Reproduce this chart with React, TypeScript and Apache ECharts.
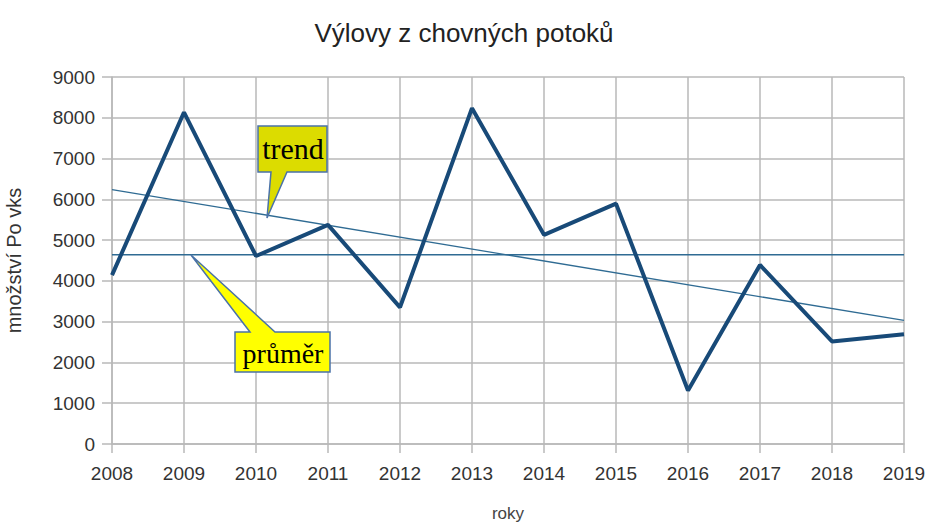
import React, { useEffect, useRef } from "react";
import * as echarts from "echarts";

const years = ["2008", "2009", "2010", "2011", "2012", "2013", "2014", "2015", "2016", "2017", "2018", "2019"];
const catch_ = [4140, 8135, 4610, 5375, 3350, 8235, 5130, 5895, 1310, 4390, 2515, 2690];
const averageValue = 4640;
const trendStart = 6240;
const trendEnd = 3030;
const yTicks = { min: 0, max: 9000, interval: 1000 };

export default function App() {
  const ref = useRef<HTMLDivElement>(null);
  useEffect(() => {
    if (!ref.current) return;
    const chart = echarts.init(ref.current, null, { renderer: "svg" });
    const font = "'Liberation Sans', Arial, sans-serif";
    const serif = "'Liberation Serif', 'Times New Roman', serif";
    const gray = "#b8b8b8";
    chart.setOption({
      animation: false,
      backgroundColor: "#ffffff",
      title: {
        text: "Výlovy z chovných potoků",
        left: "center",
        top: 15,
        textStyle: { fontFamily: font, fontSize: 26, fontWeight: "normal", color: "#222" },
      },
      grid: { left: 112, right: 24, top: 77, bottom: 81, containLabel: false, outerBoundsMode: "none" },
      xAxis: {
        type: "category",
        data: years,
        boundaryGap: false,
        name: "roky",
        nameLocation: "middle",
        nameGap: 61,
        nameTextStyle: { fontFamily: font, fontSize: 17, color: "#444" },
        axisLine: { lineStyle: { color: gray, width: 1.5 } },
        axisTick: { show: true, length: 9, lineStyle: { color: gray, width: 1.5 } },
        axisLabel: { fontFamily: font, fontSize: 19, color: "#333", margin: 20 },
        splitLine: { show: true, lineStyle: { color: gray, width: 1.5 } },
      },
      yAxis: {
        type: "value",
        min: yTicks.min,
        max: yTicks.max,
        interval: yTicks.interval,
        name: "množství Po vks",
        nameLocation: "middle",
        nameGap: 88,
        nameRotate: 90,
        nameTextStyle: { fontFamily: font, fontSize: 20, color: "#333" },
        axisLine: { show: true, lineStyle: { color: gray, width: 1.5 } },
        axisTick: { show: true, length: 10, lineStyle: { color: gray, width: 1.5 } },
        axisLabel: { fontFamily: font, fontSize: 19, color: "#333", margin: 17, formatter: (v: number) => String(v) },
        splitLine: { show: true, lineStyle: { color: gray, width: 1.5 } },
      },
      series: [
        {
          type: "line",
          data: [[years[0], averageValue], [years[years.length - 1], averageValue]],
          symbol: "none",
          lineStyle: { color: "#2f6b93", width: 1.5 },
          z: 2,
        },
        {
          type: "line",
          data: [[years[0], trendStart], [years[years.length - 1], trendEnd]],
          symbol: "none",
          lineStyle: { color: "#2f6b93", width: 1.3 },
          z: 2,
        },
        {
          type: "line",
          data: catch_,
          symbol: "none",
          lineStyle: { color: "#184a78", width: 4 },
          z: 3,
        },
      ],
      graphic: [
        {
          type: "polygon",
          shape: {
            points: [[258, 126], [327, 126], [327, 172], [287, 172], [267, 218], [271, 172], [258, 172]],
          },
          style: { fill: "#dcdc00", stroke: "#4a72a8", lineWidth: 1.5 },
          z: 10,
        },
        {
          type: "text",
          x: 293,
          y: 148,
          style: { text: "trend", font: `30px ${serif}`, fill: "#000", align: "center", verticalAlign: "middle" },
          z: 11,
        },
        {
          type: "polygon",
          shape: {
            points: [[235, 332], [250, 332], [191, 255], [275, 332], [330, 332], [330, 372], [235, 372]],
          },
          style: { fill: "#ffff00", stroke: "#4a72a8", lineWidth: 1.5 },
          z: 10,
        },
        {
          type: "text",
          x: 283,
          y: 353,
          style: { text: "průměr", font: `28px ${serif}`, fill: "#000", align: "center", verticalAlign: "middle" },
          z: 11,
        },
      ],
    });
    return () => chart.dispose();
  }, []);
  return <div ref={ref} style={{ position: "fixed", left: 0, top: 0, width: 928, height: 525 }} />;
}
